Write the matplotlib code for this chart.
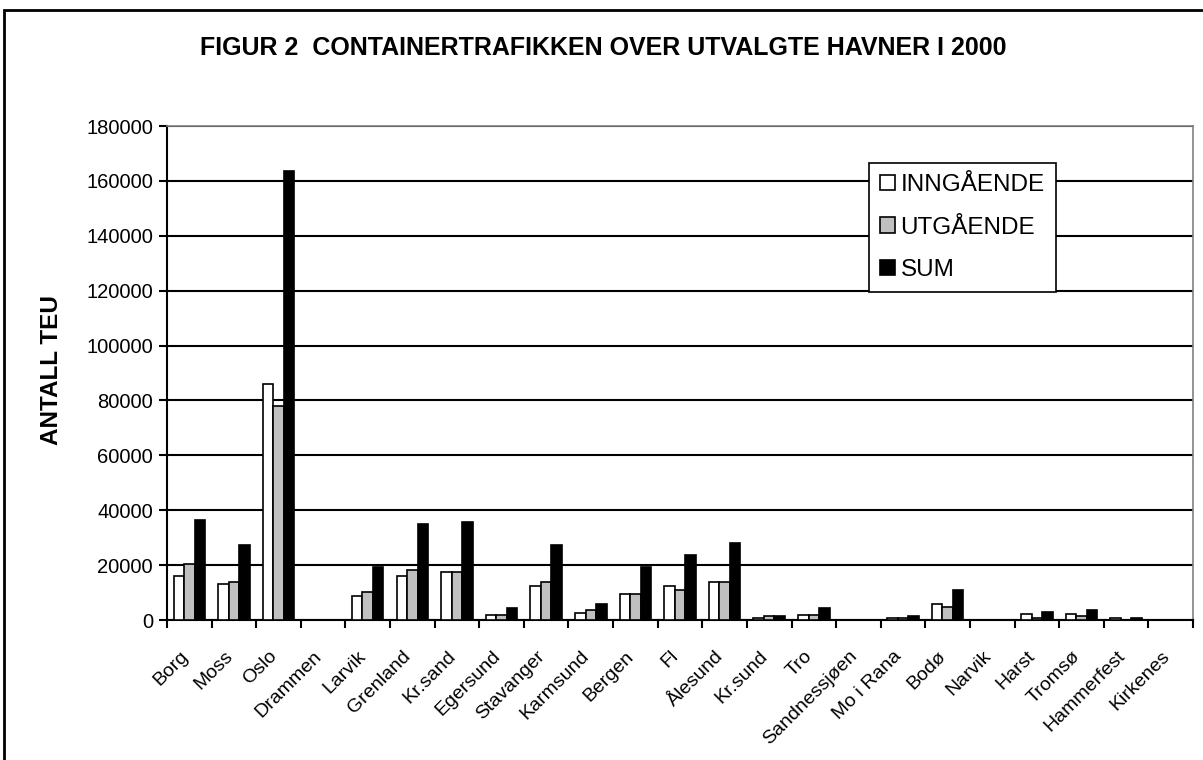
import numpy as np
import matplotlib
matplotlib.use('Agg')
import matplotlib.pyplot as plt
import matplotlib.patches as patches
from matplotlib.transforms import ScaledTranslation

plt.rcParams['font.family'] = ['Liberation Sans', 'DejaVu Sans']

# data (TEU)
havner = ['Borg', 'Moss', 'Oslo', 'Drammen', 'Larvik', 'Grenland', 'Kr.sand',
          'Egersund', 'Stavanger', 'Karmsund', 'Bergen', 'Fl', 'Ålesund',
          'Kr.sund', 'Tro', 'Sandnessjøen', 'Mo i Rana', 'Bodø', 'Narvik',
          'Harst', 'Tromsø', 'Hammerfest', 'Kirkenes']
inngaende = [16000, 13200, 86000, 0, 8600, 16000, 17500, 1900, 12300, 2700,
             9400, 12300, 13800, 600, 2000, 0, 600, 5800, 0, 2100, 2100, 600, 0]
utgaende = [20500, 13800, 77800, 0, 10100, 18400, 17500, 1900, 13800, 3500,
            9400, 10900, 13800, 1300, 2000, 0, 600, 4900, 0, 700, 1400, 100, 0]
summ = [36500, 27200, 163600, 0, 19400, 34800, 35600, 4400, 27400, 5900,
        19400, 23700, 28100, 1500, 4400, 0, 1400, 11100, 0, 3000, 3700, 700, 0]
serier = ['INNGÅENDE', 'UTGÅENDE', 'SUM']
yticks = list(range(0, 180001, 20000))

W, H = 1203, 760
fig = plt.figure(figsize=(W / 100, H / 100), dpi=100)
fig.patch.set_facecolor('white')

# outer chart border
fig.patches.append(patches.Rectangle((4 / W, -0.05), 1.2, 1 - 10 / H + 0.05,
                                     transform=fig.transFigure, fill=False,
                                     edgecolor='black', linewidth=2))

ax = fig.add_axes([167 / W, 1 - 620 / H, (1193 - 167) / W, (620 - 126) / H])

x = np.arange(len(havner))
w = 0.235
ax.bar(x - w, inngaende, w, color='white', edgecolor='black', linewidth=1.2,
       label=serier[0], zorder=3)
ax.bar(x, utgaende, w, color='#C0C0C0', edgecolor='black', linewidth=1.2,
       label=serier[1], zorder=3)
ax.bar(x + w, summ, w, color='black', edgecolor='black', linewidth=1.2,
       label=serier[2], zorder=3)

ax.set_xlim(-0.5, len(havner) - 0.5)
ax.set_ylim(0, 180000)
ax.set_yticks(yticks)
ax.set_yticklabels([str(v) for v in yticks], fontsize=14.5)
ax.yaxis.grid(True, color='black', linewidth=1.5, zorder=0)
ax.tick_params(axis='y', direction='out', length=6, width=1.5, pad=4)

# category boundaries as ticks, names at centres
ax.set_xticks(np.arange(-0.5, len(havner), 1))
ax.set_xticklabels([])
ax.tick_params(axis='x', which='major', direction='out', length=6, width=1.5)
ax.set_xticks(x, minor=True)
ax.set_xticklabels(havner, minor=True, rotation=45, ha='right',
                   rotation_mode='anchor', fontsize=14)
ax.tick_params(axis='x', which='minor', length=0, pad=20)
for lbl in ax.get_xticklabels(minor=True):
    lbl.set_transform(lbl.get_transform() +
                      ScaledTranslation(-0.1, 0, fig.dpi_scale_trans))

for side in ['left', 'bottom']:
    ax.spines[side].set_linewidth(1.5)
for side in ['top', 'right']:
    ax.spines[side].set_color('#808080')
    ax.spines[side].set_linewidth(1.2)

fig.text(603 / W, 1 - 48 / H,
         'FIGUR 2  CONTAINERTRAFIKKEN OVER UTVALGTE HAVNER I 2000',
         ha='center', va='center', fontsize=18, fontweight='bold')
fig.text(51 / W, 1 - 370 / H, 'ANTALL TEU', rotation=90, ha='center',
         va='center', fontsize=17.5, fontweight='bold')

leg = ax.legend(loc='upper left', bbox_to_anchor=(869 / W, 1 - 163 / H),
                bbox_transform=fig.transFigure, borderaxespad=0,
                fancybox=False, edgecolor='black', framealpha=1,
                fontsize=17.5, handlelength=0.6, handleheight=0.6,
                handletextpad=0.25, labelspacing=0.85, borderpad=0.45)
leg.get_frame().set_linewidth(1.2)
leg.set_zorder(5)

fig.savefig('out.png', dpi=100, facecolor='white')
